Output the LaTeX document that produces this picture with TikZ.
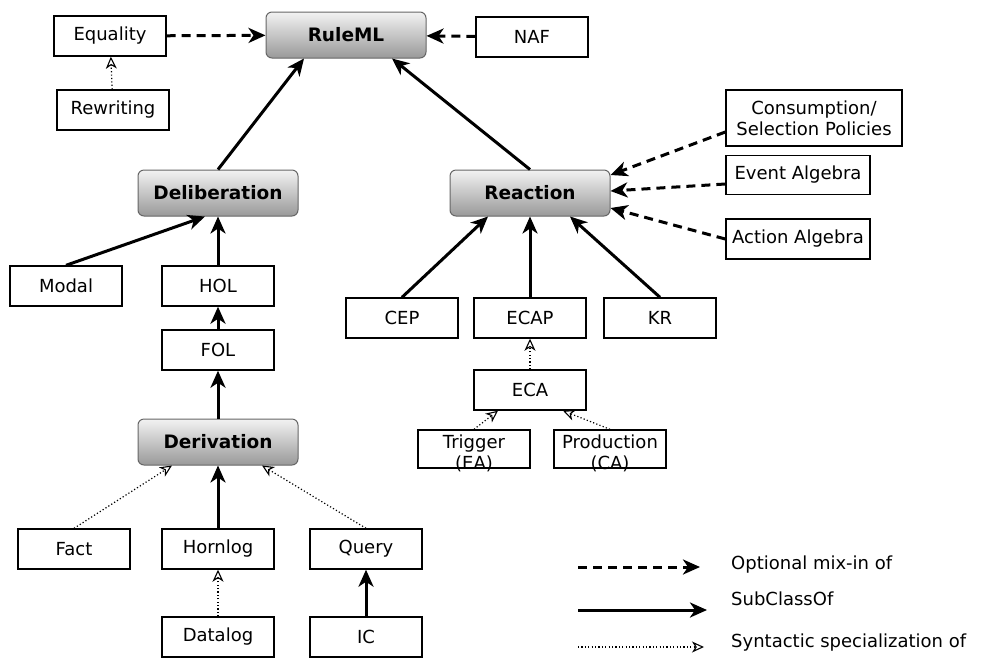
\documentclass[tikz,border=0pt]{standalone}
\usepackage{fontspec}
\setmainfont{DejaVu Sans}
\usetikzlibrary{arrows.meta,calc,positioning}

\begin{document}
\begin{tikzpicture}[x=1pt,y=-1pt,
  box/.style={draw,line width=1.4pt,minimum width=112pt,minimum height=40pt,inner sep=0pt,
    font=\fontsize{18}{21}\selectfont},
  topic/.style={draw=black!60,line width=1pt,rounded corners=6pt,minimum width=160pt,minimum height=46pt,
    top color=black!5,bottom color=black!40,font=\fontsize{18.5}{22}\selectfont\bfseries},
  mixin/.style={line width=3pt,dash pattern=on 9pt off 6pt,-{Stealth[length=17pt,width=15pt,inset=5pt]}},
  subclass/.style={line width=3pt,-{Stealth[length=17pt,width=15pt,inset=5pt]}},
  syntactic/.style={line width=1.2pt,dash pattern=on 1.2pt off 2.2pt,-{Stealth[open,length=12pt,width=11pt,inset=3.5pt,line width=1.1pt]}},
  legend/.style={anchor=west,inner sep=0pt,font=\fontsize{18}{21}\selectfont}]
  \useasboundingbox (0,0) rectangle (982,657);
  % top row
  \node[topic] (rule) at (346,35) {RuleML};
  \node[box] (equality) at (110,36) {Equality};
  \node[box] (naf) at (532,37) {NAF};
  \node[box] (rewriting) at (113,110) {Rewriting};
  % main branches
  \node[topic] (delib) at (218,193) {Deliberation};
  \node[topic] (react) at (530,193) {Reaction};
  \node[box,minimum width=176pt,minimum height=56pt,align=center] (consume) at (814,118) {Consumption/\\Selection Policies};
  \node[box,minimum width=144pt,minimum height=39pt] (eventalg) at (798,175) {Event Algebra};
  \node[box,minimum width=144pt,minimum height=40pt] (actionalg) at (798,239) {Action Algebra};
  % deliberation side
  \node[box] (modal) at (66,286) {Modal};
  \node[box] (hol) at (218,286) {HOL};
  \node[box] (fol) at (218,350) {FOL};
  \node[topic] (deriv) at (218,442) {Derivation};
  \node[box] (fact) at (74,549) {Fact};
  \node[box] (hornlog) at (218,549) {Hornlog};
  \node[box] (query) at (366,549) {Query};
  \node[box] (datalog) at (218,637) {Datalog};
  \node[box] (ic) at (366,637) {IC};
  % reaction side
  \node[box] (cep) at (402,318) {CEP};
  \node[box] (ecap) at (530,318) {ECAP};
  \node[box] (kr) at (660,318) {KR};
  \node[box] (eca) at (530,390) {ECA};
  \node[box,minimum height=38pt] (trigger) at (474,449) {};
  \node[box,minimum height=38pt] (production) at (610,449) {};
  \node[align=center,inner sep=0pt,font=\fontsize{18}{21}\selectfont] (triggertxt) at (474,453) {Trigger\\(EA)};
  \node[align=center,inner sep=0pt,font=\fontsize{18}{21}\selectfont] (productiontxt) at (610,453) {Production\\(CA)};
  % connectors
  \draw[mixin] (equality) -- (rule);
  \draw[mixin] (naf) -- (rule);
  \draw[syntactic] (rewriting) -- (equality);
  \draw[subclass] (delib.north) -- ($(rule.south)+(-42,0)$);
  \draw[subclass] (react.north) -- ($(rule.south)+(46,0)$);
  \draw[mixin] ($(consume.west)+(0,14)$) -- ($(react.east)+(0,-18)$);
  \draw[mixin] ($(eventalg.west)+(0,9)$) -- ($(react.east)+(0,-2)$);
  \draw[mixin] (actionalg.west) -- ($(react.east)+(0,15)$);
  \draw[subclass] (modal.north) -- ($(delib.south)+(-13,0)$);
  \draw[subclass] (hol) -- (delib);
  \draw[subclass] (fol) -- (hol);
  \draw[subclass] (deriv) -- (fol);
  \draw[syntactic] (fact.north) -- ($(deriv.south)+(-46,0)$);
  \draw[subclass] (hornlog) -- (deriv);
  \draw[syntactic] (query.north) -- ($(deriv.south)+(44,0)$);
  \draw[syntactic] (datalog) -- (hornlog);
  \draw[subclass] (ic) -- (query);
  \draw[subclass] (cep.north) -- ($(react.south)+(-42,0)$);
  \draw[subclass] (ecap) -- (react);
  \draw[subclass] (kr.north) -- ($(react.south)+(40,0)$);
  \draw[syntactic] (eca) -- (ecap);
  \draw[syntactic] (trigger.north) -- ($(eca.south)+(-32,0)$);
  \draw[syntactic] (production.north) -- ($(eca.south)+(33,0)$);
  % legend
  \coordinate (mixA) at (578,567);
  \coordinate (mixB) at (700,567);
  \coordinate (subA) at (578,610);
  \coordinate (subB) at (707,610);
  \coordinate (synA) at (578,647);
  \coordinate (synB) at (704,647);
  \draw[mixin] (mixA) -- (mixB);
  \draw[subclass] (subA) -- (subB);
  \draw[syntactic] (synA) -- (synB);
  \node[legend] (mixtxt) at (731,565) {Optional mix-in of};
  \node[legend] (subtxt) at (731,599) {SubClassOf};
  \node[legend] (syntxt) at (731,643) {Syntactic specialization of};
\end{tikzpicture}
\end{document}
